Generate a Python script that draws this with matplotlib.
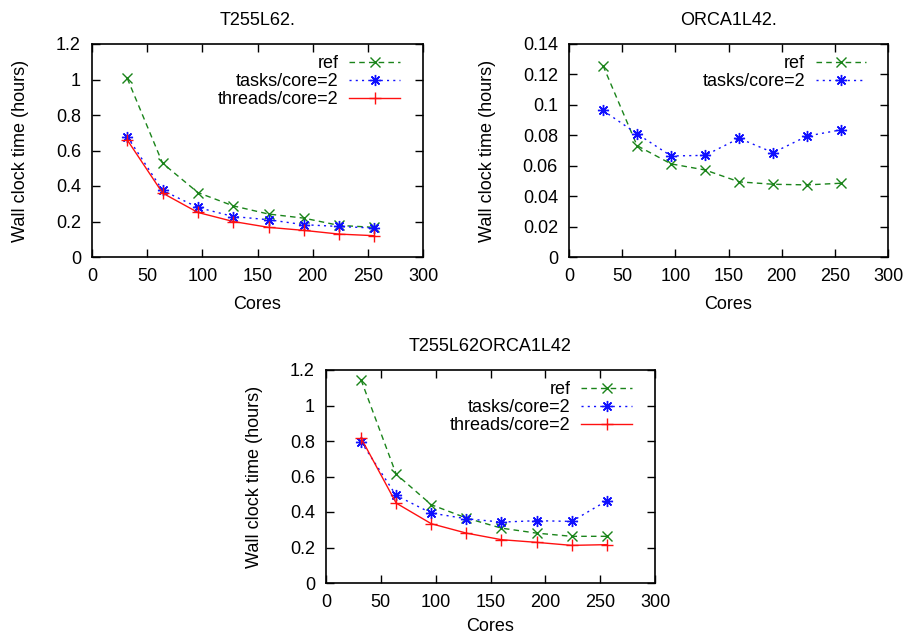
import matplotlib
matplotlib.use("Agg")
import matplotlib.pyplot as plt

plt.rcParams["font.family"] = ["Liberation Sans", "DejaVu Sans"]
plt.rcParams["font.size"] = 13

cores = [32, 64, 96, 128, 160, 192, 224, 256]

# T255L62
t255_ref = [1.006, 0.528, 0.363, 0.288, 0.242, 0.219, 0.178, 0.167]
t255_tasks = [0.678, 0.375, 0.279, 0.228, 0.210, 0.182, 0.172, 0.163]
t255_threads = [0.659, 0.360, 0.251, 0.200, 0.167, 0.150, 0.129, 0.120]

# ORCA1L42
orca_ref = [0.1258, 0.0732, 0.0612, 0.0572, 0.0494, 0.0478, 0.0474, 0.0485]
orca_tasks = [0.0963, 0.0810, 0.0664, 0.0668, 0.0780, 0.0686, 0.0795, 0.0836]

# coupled T255L62 + ORCA1L42
cpl_ref = [1.144, 0.613, 0.441, 0.366, 0.309, 0.281, 0.263, 0.263]
cpl_tasks = [0.795, 0.493, 0.394, 0.362, 0.343, 0.351, 0.347, 0.463]
cpl_threads = [0.816, 0.450, 0.334, 0.281, 0.244, 0.229, 0.212, 0.216]

GREEN = "#1a841a"
BLUE = "#1010ff"
RED = "#ff1010"
ASTERISK = (8, 2, 0)
FS = 13


def fmt_general(v):
    return f"{v:.2f}".rstrip("0").rstrip(".")


def style_axes(ax, title, ymax, ystep, xpad=8):
    ax.set_xlim(0, 300)
    ax.set_ylim(0, ymax)
    ax.set_xticks(range(0, 301, 50))
    n = int(round(ymax / ystep))
    yt = [i * ystep for i in range(n + 1)]
    ax.set_yticks(yt)
    ax.set_yticklabels([fmt_general(v) for v in yt])
    ax.tick_params(direction="in", length=6, width=1, top=True, right=True,
                   labelsize=FS, pad=8)
    for sp in ax.spines.values():
        sp.set_linewidth(1.2)
    ax.set_title(title, fontsize=FS, pad=14)
    ax.set_xlabel("Cores", fontsize=FS, labelpad=xpad)
    ax.set_ylabel("Wall clock time (hours)", fontsize=FS, labelpad=19)


def plot_series(ax, ref, tasks, threads=None, anchor_x=0.952):
    ax.plot(cores, ref, color=GREEN, lw=1, dashes=(4, 3), marker="x",
            ms=7, mew=1, label="ref")
    ax.plot(cores, tasks, color=BLUE, lw=1, dashes=(1.5, 3), marker=ASTERISK,
            ms=8, mew=1, label="tasks/core=2")
    if threads is not None:
        ax.plot(cores, threads, color=RED, lw=1, marker="+", ms=8, mew=1,
                label="threads/core=2")
    ax.legend(loc="upper right", bbox_to_anchor=(anchor_x, 0.98),
              frameon=False, markerfirst=False, handlelength=2.8,
              handletextpad=0.6, labelspacing=0.05, borderaxespad=0.0,
              fontsize=FS)


fig = plt.figure(figsize=(9.07, 6.37), dpi=100)

ax1 = fig.add_axes([92 / 907, (637 - 257) / 637, 331 / 907, 213 / 637])
plot_series(ax1, t255_ref, t255_tasks, t255_threads)
style_axes(ax1, "T255L62.", 1.2, 0.2)

ax2 = fig.add_axes([569 / 907, (637 - 257) / 637, 319 / 907, 213 / 637])
plot_series(ax2, orca_ref, orca_tasks, anchor_x=0.955)
style_axes(ax2, "ORCA1L42.", 0.14, 0.02)

ax3 = fig.add_axes([326 / 907, (637 - 583) / 637, 329 / 907, 213 / 637])
plot_series(ax3, cpl_ref, cpl_tasks, cpl_threads)
style_axes(ax3, "T255L62ORCA1L42", 1.2, 0.2, xpad=5)

fig.savefig("out.png", dpi=100)
